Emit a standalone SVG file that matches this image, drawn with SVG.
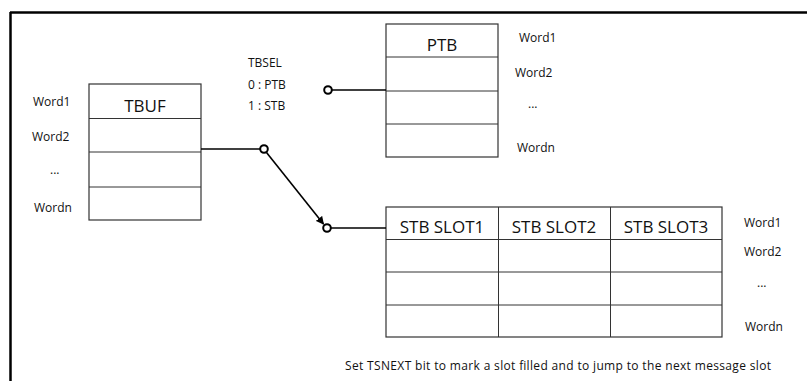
<svg xmlns="http://www.w3.org/2000/svg" width="807" height="381" viewBox="0 0 807 381">
<style>
text{font-family:"Open Sans","Noto Sans","Liberation Sans",sans-serif;fill:#111}
.s{font-size:12px}
.t{font-size:17px;text-anchor:middle}
.box{fill:#fff;stroke:#333;stroke-width:1.2}
.ln{stroke:#333;stroke-width:1}
.wire{stroke:#000;stroke-width:1.6;fill:none}
.pt{fill:#fff;stroke:#000;stroke-width:2}
</style>
<defs>
<marker id="ah" viewBox="0 0 10 10" refX="9" refY="5" markerWidth="8" markerHeight="8" orient="auto" markerUnits="userSpaceOnUse">
<path d="M0,0 L10,5 L0,10 z" fill="#000"/>
</marker>
</defs>
<rect width="807" height="381" fill="#fff"/>
<g id="frame">
<line x1="10" y1="12.5" x2="807" y2="12.5" stroke="#000" stroke-width="2.5"/>
<line x1="10.5" y1="12" x2="10.5" y2="381" stroke="#000" stroke-width="2.5"/>
</g>
<g id="tbuf">
<rect class="box" x="89" y="84" width="112" height="136"/>
<line class="ln" x1="89" y1="118.5" x2="201" y2="118.5"/>
<line class="ln" x1="89" y1="152" x2="201" y2="152"/>
<line class="ln" x1="89" y1="187" x2="201" y2="187"/>
<text class="t" x="145" y="112">TBUF</text>
<text class="s" x="33" y="106">Word1</text>
<text class="s" x="32" y="141">Word2</text>
<text class="s" x="50" y="174">...</text>
<text class="s" x="34" y="212">Wordn</text>
</g>
<g id="ptb">
<rect class="box" x="386" y="24" width="112" height="133"/>
<line class="ln" x1="386" y1="57" x2="498" y2="57"/>
<line class="ln" x1="386" y1="91" x2="498" y2="91"/>
<line class="ln" x1="386" y1="124" x2="498" y2="124"/>
<text class="t" x="442" y="51">PTB</text>
<text class="s" x="519" y="42">Word1</text>
<text class="s" x="515" y="77">Word2</text>
<text class="s" x="528" y="108">...</text>
<text class="s" x="517" y="152">Wordn</text>
</g>
<g id="stb">
<rect class="box" x="386" y="207" width="336" height="130"/>
<line class="ln" x1="386" y1="239.5" x2="722" y2="239.5"/>
<line class="ln" x1="386" y1="272" x2="722" y2="272"/>
<line class="ln" x1="386" y1="305" x2="722" y2="305"/>
<line class="ln" x1="498.5" y1="207" x2="498.5" y2="337"/>
<line class="ln" x1="610.5" y1="207" x2="610.5" y2="337"/>
<text class="t" x="442" y="233">STB SLOT1</text>
<text class="t" x="554" y="233">STB SLOT2</text>
<text class="t" x="666" y="233">STB SLOT3</text>
<text class="s" x="744" y="227">Word1</text>
<text class="s" x="744" y="256">Word2</text>
<text class="s" x="757" y="287">...</text>
<text class="s" x="745" y="331">Wordn</text>
</g>
<g id="tbsel">
<text class="s" x="248" y="67">TBSEL</text>
<text class="s" x="248" y="89">0 : PTB</text>
<text class="s" x="248" y="110">1 : STB</text>
</g>
<g id="note">
<text class="s" x="345" y="370" textLength="426">Set TSNEXT bit to mark a slot filled and to jump to the next message slot</text>
</g>
<g id="connectors">
<line class="wire" x1="201" y1="149" x2="260" y2="149"/>
<line class="wire" x1="332" y1="90" x2="386" y2="90"/>
<line class="wire" x1="331" y1="228" x2="386" y2="228"/>
<line class="wire" x1="266.5" y1="152.5" x2="323.5" y2="224" marker-end="url(#ah)"/>
<circle class="pt" cx="264" cy="149" r="3.8"/>
<circle class="pt" cx="328" cy="90" r="3.8"/>
<circle class="pt" cx="327" cy="228" r="3.8"/>
</g>
</svg>
